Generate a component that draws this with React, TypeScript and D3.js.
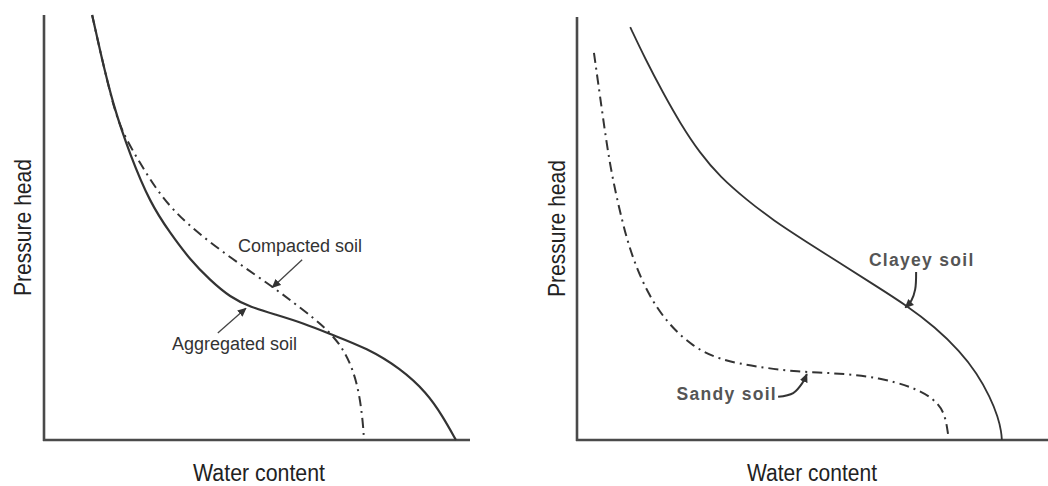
import React from "react";
import * as d3 from "d3";

const W = 1048;
const H = 486;

// ---- Left panel: aggregated vs compacted soil (water content %, pressure head %) ----
const aggregatedWater = [11.3, 13.1, 16.2, 20.2, 24.9, 29.6, 34.3, 39.0, 43.7, 48.4, 54.7, 60.8, 67.8, 75.8, 83.6, 89.9, 93.7, 96.7];
const aggregatedHead = [100, 91.8, 78.8, 67.1, 55.8, 48.7, 42.4, 37.6, 33.6, 31.3, 29.4, 27.5, 24.7, 21.6, 16.9, 11.1, 5.4, 0];

const compactedWater = [11.3, 13.1, 16.2, 18.3, 22.5, 27.2, 33.6, 44.4, 53.8, 60.8, 64.8, 69.5, 72.5, 74.2, 75.0, 75.1];
const compactedHead = [100, 91.8, 78.8, 72.5, 65.2, 57.6, 50.6, 42.4, 36.0, 30.6, 27.5, 22.8, 16.9, 10.1, 2.5, 0];

// ---- Right panel: clayey vs sandy soil ----
const clayeyWater = [11.3, 14.4, 18.3, 21.9, 26.1, 30.4, 36.1, 41.6, 48.8, 55.8, 62.8, 70.1, 76.0, 81.3, 84.9, 87.7, 89.4, 90.1, 90.2];
const clayeyHead = [97.6, 90.3, 82.0, 74.9, 67.8, 62.2, 56.7, 52.0, 46.8, 41.8, 36.9, 31.7, 26.7, 21.0, 15.8, 10.2, 5.4, 1.9, 0];

const sandyWater = [3.6, 5.3, 7.0, 9.6, 11.7, 14.9, 19.1, 24.6, 30.4, 38.2, 46.7, 55.8, 64.3, 71.3, 75.6, 78.1, 78.8];
const sandyHead = [91.5, 78.0, 64.5, 51.5, 43.3, 34.8, 27.7, 22.0, 18.9, 17.3, 16.1, 15.8, 14.7, 12.5, 9.9, 6.6, 1.2];

// ---- Text ----
const xTitle = "Water content";
const yTitle = "Pressure head";
const leftLabels = ["Compacted soil", "Aggregated soil"];
const rightLabels = ["Clayey soil", "Sandy soil"];

type Pt = [number, number];
const zip = (xs: number[], ys: number[]): Pt[] => xs.map((x, i) => [x, ys[i]]);

const FONT = "'Liberation Sans', Arial, Helvetica, sans-serif";
const INK = "#333";
const AXIS = "#4a4a4a";
const DASHDOT = "10,5,2,5";

function Axes({ x, y }: { x: d3.ScaleLinear<number, number>; y: d3.ScaleLinear<number, number> }) {
  const [x0, x1] = x.range();
  const [y0, y1] = y.range();
  return (
    <g>
      <line x1={x0} x2={x0} y1={y0 + 1} y2={y1} stroke={AXIS} strokeWidth={2.6} />
      <line x1={x0 - 1} x2={x1} y1={y0} y2={y0} stroke={AXIS} strokeWidth={2.6} />
    </g>
  );
}

export default function App() {
  const xL = d3.scaleLinear().domain([0, 100]).range([44, 470]);
  const yL = d3.scaleLinear().domain([0, 100]).range([440, 15]);
  const xR = d3.scaleLinear().domain([0, 100]).range([577, 1048]);
  const yR = d3.scaleLinear().domain([0, 100]).range([440, 17]);

  const lineL = d3
    .line<Pt>()
    .x((d) => xL(d[0]))
    .y((d) => yL(d[1]))
    .curve(d3.curveBasis);
  const lineR = d3
    .line<Pt>()
    .x((d) => xR(d[0]))
    .y((d) => yR(d[1]))
    .curve(d3.curveBasis);

  // annotation arrows (data units)
  const compactedArrow: Pt[] = [[60.6, 42.4], [53.6, 35.9]];
  const aggregatedArrow: Pt[] = [[40.8, 25.2], [47.4, 31.0]];
  const clayeyArrow: Pt[] = [[72.0, 39.7], [71.8, 35.6], [71.0, 33.0], [69.7, 31.3]];
  const sandyArrow: Pt[] = [[42.7, 10.2], [45.9, 11.1], [47.8, 13.4], [48.8, 15.6]];

  const arrowL = d3.line<Pt>().x((d) => xL(d[0])).y((d) => yL(d[1]));
  const arrowR = d3
    .line<Pt>()
    .x((d) => xR(d[0]))
    .y((d) => yR(d[1]))
    .curve(d3.curveCatmullRom.alpha(0.5));

  return (
    <svg
      width={W}
      height={H}
      viewBox={`0 0 ${W} ${H}`}
      style={{ position: "absolute", left: 0, top: 0, background: "#fff" }}
    >
      <defs>
        <marker id="ah" viewBox="0 0 10 10" refX="9" refY="5" markerWidth="9" markerHeight="9" markerUnits="userSpaceOnUse" orient="auto">
          <path d="M0,0.5 L10,5 L0,9.5 Z" fill="#333" />
        </marker>
      </defs>
      <rect width={W} height={H} fill="#fff" />

      {/* ---------------- Left panel ---------------- */}
      <Axes x={xL} y={yL} />
      <path d={lineL(zip(compactedWater, compactedHead)) || ""} fill="none" stroke={INK} strokeWidth={2} strokeDasharray={DASHDOT} />
      <path d={lineL(zip(aggregatedWater, aggregatedHead)) || ""} fill="none" stroke={INK} strokeWidth={2.2} />

      <text x={xL(60.1)} y={yL(44.2)} textAnchor="middle" fontFamily={FONT} fontSize={18} fill="#333">
        {leftLabels[0]}
      </text>
      <path d={arrowL(compactedArrow) || ""} stroke="#444" strokeWidth={1.3} fill="none" markerEnd="url(#ah)" />
      <text x={xL(44.7)} y={yL(21.2)} textAnchor="middle" fontFamily={FONT} fontSize={18} fill="#333">
        {leftLabels[1]}
      </text>
      <path d={arrowL(aggregatedArrow) || ""} stroke="#444" strokeWidth={1.3} fill="none" markerEnd="url(#ah)" />

      <text
        transform={`translate(31,${yL(50)}) rotate(-90)`}
        textAnchor="middle"
        fontFamily={FONT}
        fontSize={24}
        fill="#222"
        textLength={137}
        lengthAdjust="spacingAndGlyphs"
      >
        {yTitle}
      </text>
      <text
        x={259}
        y={481}
        textAnchor="middle"
        fontFamily={FONT}
        fontSize={23}
        fill="#222"
        textLength={132}
        lengthAdjust="spacingAndGlyphs"
      >
        {xTitle}
      </text>

      {/* ---------------- Right panel ---------------- */}
      <Axes x={xR} y={yR} />
      <path d={lineR(zip(sandyWater, sandyHead)) || ""} fill="none" stroke={INK} strokeWidth={2} strokeDasharray={DASHDOT} />
      <path d={lineR(zip(clayeyWater, clayeyHead)) || ""} fill="none" stroke={INK} strokeWidth={1.8} />

      <text x={xR(73.2)} y={yR(41.1)} textAnchor="middle" fontFamily={FONT} fontSize={17.5} fontWeight="bold" fill="#555" letterSpacing={1.3}>
        {rightLabels[0]}
      </text>
      <path d={arrowR(clayeyArrow) || ""} stroke="#333" strokeWidth={2} fill="none" markerEnd="url(#ah)" />
      <text x={xR(31.8)} y={yR(9.5)} textAnchor="middle" fontFamily={FONT} fontSize={17.5} fontWeight="bold" fill="#555" letterSpacing={1.3}>
        {rightLabels[1]}
      </text>
      <path d={arrowR(sandyArrow) || ""} stroke="#333" strokeWidth={2} fill="none" markerEnd="url(#ah)" />

      <text
        transform={`translate(565,${yR(50)}) rotate(-90)`}
        textAnchor="middle"
        fontFamily={FONT}
        fontSize={24}
        fill="#222"
        textLength={137}
        lengthAdjust="spacingAndGlyphs"
      >
        {yTitle}
      </text>
      <text
        x={812}
        y={481}
        textAnchor="middle"
        fontFamily={FONT}
        fontSize={23}
        fill="#222"
        textLength={130}
        lengthAdjust="spacingAndGlyphs"
      >
        {xTitle}
      </text>
    </svg>
  );
}
